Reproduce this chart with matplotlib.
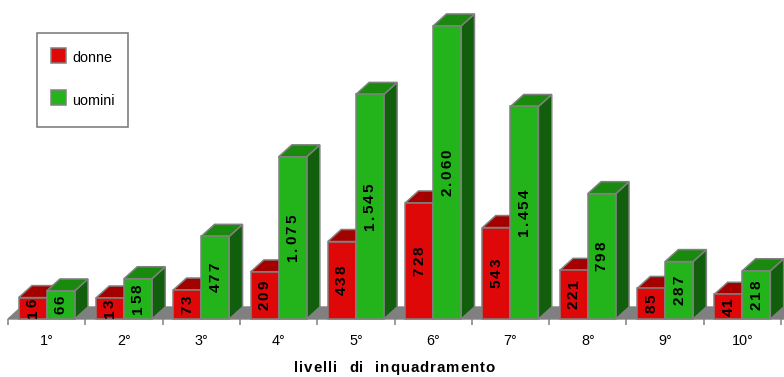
import matplotlib
matplotlib.use("Agg")
import matplotlib.pyplot as plt
from matplotlib.patches import Polygon, Rectangle
from matplotlib.textpath import TextToPath
from matplotlib.font_manager import FontProperties
from matplotlib.transforms import ScaledTranslation
import numpy as np

# ---- data ----
categories = ["1°", "2°", "3°", "4°", "5°", "6°", "7°", "8°", "9°", "10°"]
donne = [16, 13, 73, 209, 438, 728, 543, 221, 85, 41]
uomini = [66, 158, 477, 1075, 1545, 2060, 1454, 798, 287, 218]
series_names = ["donne", "uomini"]
x_title = "livelli  di  inquadramento"

# ---- styling ----
W, H, DPI = 784, 377, 100
EDGE = "#808080"
RED = dict(front="#DF0808", top="#A50000", side="#6E0000")
GREEN = dict(front="#22B41A", top="#198A0E", side="#115E0C")
FONT = "Liberation Sans"
Y_MIN = -145           # value axis starts below zero
Y_MAX = 2180

fig = plt.figure(figsize=(W / DPI, H / DPI), dpi=DPI)
fig.patch.set_facecolor("white")

# axes: left 8px, right 781px, bottom at 319px from top, top at 10px
ax = fig.add_axes([8 / W, (H - 319) / H, 773 / W, 309 / H])
ax.set_xlim(-0.5, len(categories) - 0.5)
ax.set_ylim(Y_MIN, Y_MAX)
for s in ax.spines.values():
    s.set_visible(False)
ax.set_yticks([])
ax.patch.set_alpha(0)

# conversion of the 3-D depth offset (pixels) into data units
px_x = (len(categories)) / 773.0
px_y = (Y_MAX - Y_MIN) / 309.0
DX, DY = 13.3 * px_x, 12.0 * px_y
BW = 28.0 * px_x

# floor slab
x0, x1 = -0.5, len(categories) - 0.5
floor = Polygon([(x0, Y_MIN), (x1 + 0.2, Y_MIN), (x1 + 0.2 + DX, Y_MIN + DY), (x0 + DX, Y_MIN + DY)],
                closed=True, facecolor=EDGE, edgecolor=EDGE, lw=1.0, clip_on=False, zorder=1)
ax.add_patch(floor)


def box(xl, val, col, z):
    xr = xl + BW
    lw = 1.1
    kw = dict(closed=True, edgecolor=EDGE, lw=lw, joinstyle="miter", clip_on=False, zorder=z)
    front = Polygon([(xl, Y_MIN), (xr, Y_MIN), (xr, val), (xl, val)], facecolor=col["front"], **kw)
    top = Polygon([(xl, val), (xr, val), (xr + DX, val + DY), (xl + DX, val + DY)], facecolor=col["top"], **kw)
    side = Polygon([(xr, Y_MIN), (xr + DX, Y_MIN + DY), (xr + DX, val + DY), (xr, val)], facecolor=col["side"], **kw)
    for p in (side, top, front):
        ax.add_patch(p)


ttp = TextToPath()
lab_fp = FontProperties(family=FONT, weight="bold", size=11.0)


def tracked_vertical(xc, yc, s, fp, track_px, z):
    """Rotated label with extra spacing between the characters."""
    advs = []
    for ch in s:
        w, h, d = ttp.get_text_width_height_descent(ch, fp, ismath=False)
        advs.append(w * DPI / 72.0)
    total = sum(advs) + track_px * (len(s) - 1)
    pos = -total / 2.0
    for ch, a in zip(s, advs):
        off = pos + a / 2.0
        tr = ax.transData + ScaledTranslation(0, off / DPI, fig.dpi_scale_trans)
        ax.text(xc, yc, ch, rotation=90, ha="center", va="center", fontproperties=fp,
                color="black", transform=tr, zorder=z, clip_on=False)
        pos += a + track_px


def fmt(v):
    return f"{v:,}".replace(",", ".")


for i, (d, u) in enumerate(zip(donne, uomini)):
    z = 3 + i * 3
    box(i - BW, d, RED, z)
    box(i, u, GREEN, z + 1)
    tracked_vertical(i - BW / 2, (Y_MIN + d) / 2, fmt(d), lab_fp, 2.0, z + 2)
    tracked_vertical(i + BW / 2, (Y_MIN + u) / 2, fmt(u), lab_fp, 2.0, z + 2)

# x axis: category labels centred, ticks at category boundaries
ax.set_xticks(range(len(categories)))
ax.set_xticklabels(categories, fontfamily=FONT, fontsize=10.4, color="black")
ax.set_xticks(np.arange(-0.5, len(categories), 1.0), minor=True)
ax.tick_params(axis="x", which="major", length=0, pad=11)
ax.tick_params(axis="x", which="minor", length=4.5, width=1.1, color=EDGE)

# axis title with letter spacing
title_fp = FontProperties(family=FONT, weight="bold", size=10.8)
advs = [ttp.get_text_width_height_descent(ch, title_fp, ismath=False)[0] * DPI / 72.0 for ch in x_title]
track = 1.0
total = sum(advs) + track * (len(x_title) - 1)
xstart = 394.5 - total / 2.0
for ch, a in zip(x_title, advs):
    fig.text((xstart + a / 2.0) / W, (H - 372) / H, ch, ha="center", va="baseline",
             fontproperties=title_fp, color="black")
    xstart += a + track

# legend box
def fx(px):
    return px / W


def fy(py):
    return (H - py) / H


fig.add_artist(Rectangle((fx(37), fy(127)), 91 / W, 94 / H, transform=fig.transFigure,
                         facecolor="white", edgecolor=EDGE, lw=1.2, zorder=50))
for name, col, top_px, base_px in zip(series_names, [RED, GREEN], [48, 90], [62, 105]):
    fig.add_artist(Rectangle((fx(51), fy(top_px + 15)), 15 / W, 15 / H, transform=fig.transFigure,
                             facecolor=col["front"], edgecolor=EDGE, lw=1.1, zorder=51))
    fig.text(fx(72), fy(base_px), name, ha="left", va="baseline", family=FONT,
             fontsize=10.4, color="black", zorder=52)

fig.savefig("out.png", dpi=DPI, facecolor="white")
